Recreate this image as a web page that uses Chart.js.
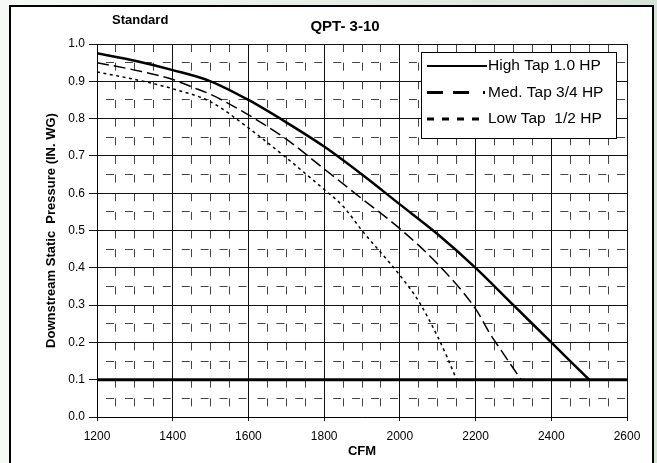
<!DOCTYPE html>
<html>
<head>
<meta charset="utf-8">
<script src="https://cdn.jsdelivr.net/npm/chart.js@4.4.1/dist/chart.umd.min.js"></script>
<style>
html, body { margin: 0; padding: 0; }
body { width: 657px; height: 463px; overflow: hidden; position: relative;
       background: linear-gradient(to right, #f7f9f7, #d6e4d6); }
#moldura { position: absolute; left: 9px; top: 5px; width: 641px; height: 480px;
           border: 2px solid #000; background: #fff; }
#caixa { position: absolute; left: 0; top: 0; width: 657px; height: 463px; }
</style>
</head>
<body>
<div id="moldura"></div>
<div id="caixa"><canvas id="grafico"></canvas></div>
<script>
var titulo = 'QPT- 3-10';
var subtitulo = 'Standard';
var tituloX = 'CFM';
var tituloY = 'Downstream Static  Pressure (IN. WG)';

var xTicks = [1200, 1400, 1600, 1800, 2000, 2200, 2400, 2600];
var yTicks = [0.0, 0.1, 0.2, 0.3, 0.4, 0.5, 0.6, 0.7, 0.8, 0.9, 1.0];

var nomes = ['High Tap 1.0 HP', 'Med. Tap 3/4 HP', 'Low Tap  1/2 HP'];

var cfmHigh = [1200, 1300, 1400, 1500, 1600, 1700, 1800, 1900, 2000, 2100, 2200, 2300, 2400, 2500];
var pressHigh = [0.975, 0.955, 0.93, 0.90, 0.85, 0.79, 0.725, 0.65, 0.57, 0.49, 0.40, 0.30, 0.20, 0.10];

var cfmMed = [1200, 1300, 1400, 1450, 1500, 1600, 1700, 1800, 1900, 2000, 2100, 2200, 2240, 2260, 2290, 2320];
var pressMed = [0.95, 0.93, 0.905, 0.885, 0.865, 0.81, 0.745, 0.665, 0.585, 0.505, 0.41, 0.29, 0.22, 0.19, 0.145, 0.10];

var cfmLow = [1200, 1300, 1400, 1500, 1600, 1700, 1800, 1850, 1900, 2000, 2050, 2100, 2125, 2150];
var pressLow = [0.925, 0.905, 0.88, 0.845, 0.775, 0.695, 0.61, 0.565, 0.50, 0.38, 0.31, 0.215, 0.16, 0.10];

// linha grossa de 0.1
var cfmLimite = [1200, 2600];
var pressLimite = [0.1, 0.1];

var fonte = '"Liberation Sans", Arial, sans-serif';

function pontos(xs, ys) {
    return xs.map(function (x, i) { return { x: x, y: ys[i] }; });
}

function ehMultiplo(v, passo) {
    var q = v / passo;
    return Math.abs(q - Math.round(q)) < 1e-6;
}

var titulos = {
    id: 'titulos',
    afterDraw: function (chart) {
        var c = chart.ctx;
        c.save();
        c.fillStyle = '#000';
        c.textBaseline = 'middle';
        c.font = 'bold 13px ' + fonte;
        c.textAlign = 'left';
        c.fillText(subtitulo, 112, 20);
        c.font = 'bold 15px ' + fonte;
        c.textAlign = 'center';
        c.fillText(titulo, 345, 27);
        c.restore();
    }
};

// legenda dentro da area do grafico, com borda
var legendaBox = {
    id: 'legendaBox',
    afterDraw: function (chart) {
        var c = chart.ctx;
        var area = chart.chartArea;
        var w = 196, h = 87;
        var left = area.right - 10 - w, top = area.top + 8;
        var tracos = [[], [16, 10, 16, 14, 2, 100], [7, 8]];
        var fim = [66, 64, 60];
        var larguras = [2, 3, 3];
        c.save();
        c.fillStyle = '#fff';
        c.fillRect(left, top, w, h);
        c.strokeStyle = '#000';
        c.lineWidth = 1;
        c.strokeRect(left + 0.5, top + 0.5, w - 1, h - 1);
        c.font = '15.5px ' + fonte;
        c.textBaseline = 'middle';
        c.textAlign = 'left';
        for (var i = 0; i < 3; i++) {
            var ds = chart.data.datasets[i];
            var y = top + 14 + i * 26.5;
            c.beginPath();
            c.setLineDash(tracos[i]);
            c.lineWidth = larguras[i];
            c.strokeStyle = ds.borderColor;
            c.moveTo(left + 6, y);
            c.lineTo(left + fim[i], y);
            c.stroke();
            c.setLineDash([]);
            c.fillStyle = '#000';
            c.fillText(ds.label, left + 67, y);
        }
        c.restore();
    }
};

var ctx = document.getElementById('grafico').getContext('2d');
window.grafico = new Chart(ctx, {
    type: 'line',
    data: {
        datasets: [{
            label: nomes[0],
            data: pontos(cfmHigh, pressHigh),
            borderColor: '#000',
            borderWidth: 2.5
        }, {
            label: nomes[1],
            data: pontos(cfmMed, pressMed),
            borderColor: '#000',
            borderWidth: 1.5,
            borderDash: [12, 5]
        }, {
            label: nomes[2],
            data: pontos(cfmLow, pressLow),
            borderColor: '#000',
            borderWidth: 1.5,
            borderDash: [3, 3.5]
        }, {
            label: 'limite',
            data: pontos(cfmLimite, pressLimite),
            borderColor: '#000',
            borderWidth: 3
        }]
    },
    options: {
        responsive: true,
        maintainAspectRatio: false,
        animation: false,
        layout: { padding: { left: 0, top: 44, right: 30, bottom: 0 } },
        elements: {
            point: { radius: 0 },
            line: { cubicInterpolationMode: 'monotone', borderCapStyle: 'butt' }
        },
        plugins: {
            legend: { display: false },
            tooltip: { enabled: false }
        },
        scales: {
            x: {
                type: 'linear',
                position: 'bottom',
                min: 1200,
                max: 2600,
                afterBuildTicks: function (s) { s.ticks = xTicks.map(function (v) { return { value: v }; }); },
                afterFit: function (s) { s.height = 46; },
                grid: { color: '#111', lineWidth: 1, tickLength: 4, tickColor: '#111' },
                border: { color: '#000', width: 1 },
                ticks: {
                    color: '#000',
                    font: { family: fonte, size: 12 },
                    padding: 8,
                    maxRotation: 0,
                    autoSkip: false,
                    callback: function (v) { return String(v); }
                },
                title: {
                    display: true,
                    text: tituloX,
                    color: '#000',
                    font: { family: fonte, size: 13, weight: 'bold' },
                    padding: { top: 0, bottom: 4 }
                }
            },
            x2: {
                type: 'linear',
                position: 'bottom',
                min: 1200,
                max: 2600,
                afterFit: function (s) { s.height = 0; },
                ticks: { display: false, stepSize: 50 },
                grid: {
                    drawTicks: false,
                    lineWidth: 1,
                    color: function (c) { return ehMultiplo(c.tick.value, 200) ? 'rgba(0,0,0,0)' : '#444'; }
                },
                border: { display: false, dash: [8, 10.65], dashOffset: 0 }
            },
            y: {
                type: 'linear',
                position: 'left',
                min: 0,
                max: 1,
                afterBuildTicks: function (s) { s.ticks = yTicks.map(function (v) { return { value: v }; }); },
                afterFit: function (s) { s.width = 97; },
                grid: { color: '#111', lineWidth: 1, tickLength: 8, tickColor: '#111' },
                border: { color: '#000', width: 1 },
                ticks: {
                    color: '#000',
                    font: { family: fonte, size: 12 },
                    padding: 4,
                    autoSkip: false,
                    callback: function (v) { return v.toFixed(1); }
                },
                title: {
                    display: true,
                    text: tituloY,
                    color: '#000',
                    font: { family: fonte, size: 13, weight: 'bold' },
                    padding: { top: 44, bottom: 0 }
                }
            },
            y2: {
                type: 'linear',
                position: 'left',
                min: 0,
                max: 1,
                afterFit: function (s) { s.width = 0; },
                ticks: { display: false, stepSize: 0.05 },
                grid: {
                    drawTicks: false,
                    lineWidth: 1,
                    color: function (c) { return ehMultiplo(c.tick.value, 0.1) ? 'rgba(0,0,0,0)' : '#444'; }
                },
                border: { display: false, dash: [8, 10.93], dashOffset: 9.93 }
            }
        }
    },
    plugins: [titulos, legendaBox]
});
</script>
</body>
</html>
